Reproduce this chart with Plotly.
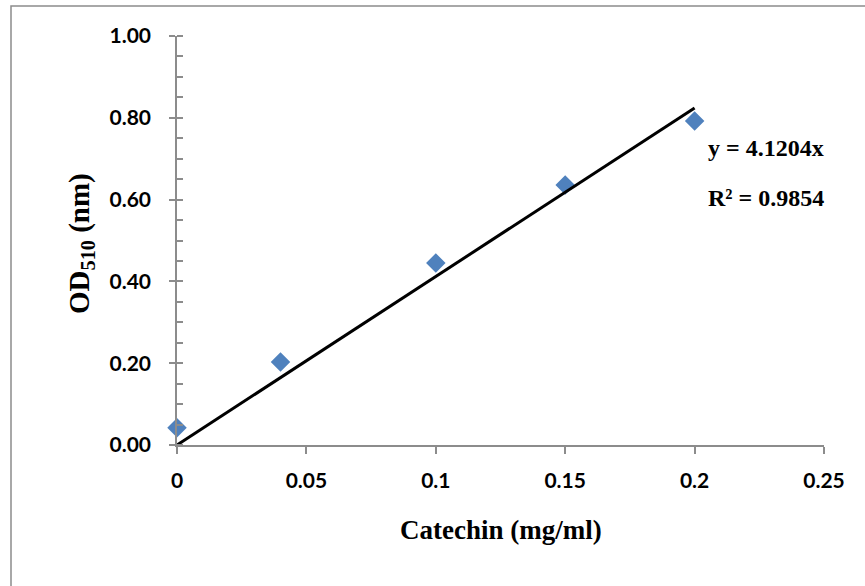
import plotly.graph_objects as go

# Data
catechin_mg_ml = [0, 0.04, 0.1, 0.15, 0.2]
od510 = [0.042, 0.203, 0.445, 0.636, 0.792]
slope = 4.1204
r_squared = 0.9854
trend_x = [0, 0.2]
x_ticks = [0, 0.05, 0.1, 0.15, 0.2, 0.25]
x_tick_labels = ["0", "0.05", "0.1", "0.15", "0.2", "0.25"]
y_ticks = [0, 0.2, 0.4, 0.6, 0.8, 1.0]
y_tick_labels = ["0.00", "0.20", "0.40", "0.60", "0.80", "1.00"]

W, H = 865, 586
L, R, T, B = 177, 41, 36, 141
pw, ph = W - L - R, H - T - B

def px(xp):
    return (xp - L) / pw

def py(yp):
    return (H - B - yp) / ph

fig = go.Figure()
fig.add_trace(go.Scatter(
    x=catechin_mg_ml, y=od510, mode="markers", cliponaxis=False,
    marker=dict(symbol="diamond", size=15, color="#4f81bd", line=dict(width=0)),
    showlegend=False, hoverinfo="skip"))
fig.add_trace(go.Scatter(
    x=trend_x, y=[slope * v for v in trend_x], mode="lines", cliponaxis=False,
    line=dict(color="#000000", width=3), showlegend=False, hoverinfo="skip"))
# overlay trace to draw inside half of major y ticks
fig.add_trace(go.Scatter(x=[0], y=[0], yaxis="y2", mode="markers",
                         marker=dict(opacity=0), showlegend=False, hoverinfo="skip"))

axis_col = "#8c8c8c"
tick_font = dict(family="Lato, Open Sans, sans-serif", size=21, color="#000000", weight="bold")
serif = "Liberation Serif, Times New Roman, serif"

fig.update_layout(
    width=W, height=H,
    margin=dict(l=L, r=R, t=T, b=B, pad=0),
    paper_bgcolor="white", plot_bgcolor="white",
    xaxis=dict(range=[0, 0.25], tickvals=x_ticks, ticktext=x_tick_labels,
               showgrid=False, zeroline=False, showline=True, linecolor=axis_col, linewidth=1.5,
               ticks="outside", ticklen=7, tickcolor=axis_col, tickwidth=1.5,
               tickfont=tick_font, ticklabelstandoff=9),
    yaxis=dict(range=[0, 1.0], tickvals=y_ticks, ticktext=y_tick_labels,
               showgrid=False, zeroline=False, showline=True, linecolor=axis_col, linewidth=1.5,
               ticks="outside", ticklen=6, tickcolor=axis_col, tickwidth=1.5,
               tickfont=tick_font, ticklabelstandoff=14,
               minor=dict(ticks="inside", dtick=0.05, ticklen=6, tickcolor=axis_col, tickwidth=1.5)),
    yaxis2=dict(range=[0, 1.0], overlaying="y", side="left", tickvals=y_ticks,
                showticklabels=False, showgrid=False, zeroline=False, showline=False,
                ticks="inside", ticklen=6, tickcolor=axis_col, tickwidth=1.5),
    shapes=[dict(type="rect", xref="paper", yref="paper",
                 x0=px(11), x1=px(868), y0=py(6), y1=py(590),
                 line=dict(color="#8c8c8c", width=1.5), fillcolor="rgba(0,0,0,0)", layer="below")],
    annotations=[
        dict(text="Catechin (mg/ml)", xref="paper", yref="paper", x=px(501), y=py(530),
             xanchor="center", yanchor="middle", showarrow=False,
             font=dict(family=serif, size=27, color="#000000", weight="bold")),
        dict(text="OD<sub>510</sub> (nm)", xref="paper", yref="paper", x=px(81), y=py(244),
             xanchor="center", yanchor="middle", showarrow=False, textangle=-90,
             font=dict(family=serif, size=29, color="#000000", weight="bold")),
        dict(text=f"y = {slope:.4f}x", xref="paper", yref="paper", x=px(706), y=py(148),
             xanchor="left", yanchor="middle", showarrow=False,
             font=dict(family=serif, size=24, color="#000000", weight="bold")),
        dict(text=f"R² = {r_squared:.4f}", xref="paper", yref="paper", x=px(706), y=py(198),
             xanchor="left", yanchor="middle", showarrow=False,
             font=dict(family=serif, size=24, color="#000000", weight="bold")),
    ],
)

fig.write_html("out.html")
